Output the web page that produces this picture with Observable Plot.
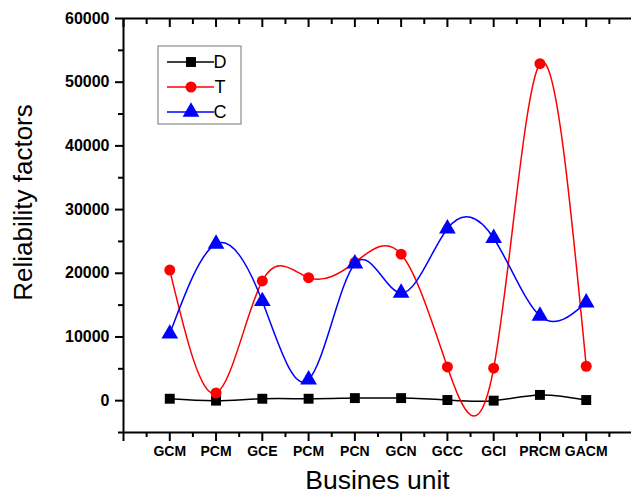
<!DOCTYPE html>
<html>
<head>
<meta charset="utf-8">
<script src="https://cdn.jsdelivr.net/npm/d3@7"></script>
<script src="https://cdn.jsdelivr.net/npm/@observablehq/plot@0.6"></script>
<style>
  html, body { margin: 0; padding: 0; background: #fff; }
  svg { font-family: Arial, "Liberation Sans", sans-serif; }
</style>
</head>
<body>
<div id="chart"></div>
<script>
const units = ["GCM", "PCM", "GCE", "PCM", "PCN", "GCN", "GCC", "GCI", "PRCM", "GACM"];
const seriesD = [300, 0, 300, 300, 400, 400, 100, 0, 900, 100];
const seriesT = [20500, 1200, 18800, 19300, 21700, 23000, 5300, 5100, 52900, 5400];
const seriesC = [10500, 24600, 15600, 3300, 21500, 16900, 27000, 25500, 13300, 15400];
const yTicks = [0, 10000, 20000, 30000, 40000, 50000, 60000];
const yMinor = [-5000, 5000, 15000, 25000, 35000, 45000, 55000];
const xTicks = d3.range(0, 12);
const xMinor = d3.range(0.5, 11, 1);

const series = [
  {name: "D", values: seriesD, color: "#000000", symbol: "square", r: 5.6},
  {name: "T", values: seriesT, color: "#ff0000", symbol: "circle", r: 5.5},
  {name: "C", values: seriesC, color: "#0000ff", symbol: "triangle", r: 6.2}
];
const rows = series.flatMap(s => s.values.map((v, i) => ({series: s.name, x: i + 1, unit: units[i], y: v})));

const lineMarks = series.flatMap(s => {
  const data = rows.filter(d => d.series === s.name);
  return [
    Plot.line(data, {x: "x", y: "y", curve: "natural", stroke: s.color, strokeWidth: 1.5}),
    Plot.dot(data, {x: "x", y: "y", symbol: () => s.symbol, r: s.r, fill: s.color, stroke: "none"})
  ];
});

const chart = Plot.plot({
  width: 631,
  height: 498,
  marginTop: 18,
  marginBottom: 66,
  marginLeft: 123,
  marginRight: 0,
  style: {fontFamily: "Arial, 'Liberation Sans', sans-serif", background: "#fff", overflow: "visible"},
  x: {domain: [0, 11], range: [123, 632]},
  y: {domain: [-5000, 60000]},
  symbol: {type: "identity"},
  marks: [
    // left axis
    Plot.axisY({ticks: yTicks, tickSize: 8, tickPadding: 6, tickFormat: d => String(d), fontSize: 16, fontWeight: "bold", label: null, strokeWidth: 2, color: "#000"}),
    Plot.axisY({ticks: yMinor, tickSize: 5, tickFormat: () => "", label: null, strokeWidth: 2}),
    // bottom axis
    Plot.axisX({ticks: d3.range(1, 11), tickSize: 9, tickPadding: 5, tickFormat: d => units[d - 1], fontSize: 14, fontWeight: "bold", label: null, strokeWidth: 2}),
    Plot.axisX({ticks: [0, 11], tickSize: 9, tickFormat: () => "", label: null, strokeWidth: 2}),
    Plot.axisX({ticks: xMinor, tickSize: 5, tickFormat: () => "", label: null, strokeWidth: 2}),
    // top axis, inward ticks
    Plot.axisX({anchor: "top", ticks: xTicks, tickSize: -8, tickFormat: () => "", label: null, strokeWidth: 2}),
    Plot.axisX({anchor: "top", ticks: xMinor, tickSize: -5, tickFormat: () => "", label: null, strokeWidth: 2}),
    // frame lines
    Plot.ruleY([-5000, 60000], {stroke: "#000", strokeWidth: 2}),
    Plot.ruleX([0, 11], {stroke: "#000", strokeWidth: 2}),
    ...lineMarks,
    // axis titles
    Plot.text(["Busines unit"], {frameAnchor: "bottom", dy: 56, fontSize: 26.5, fill: "#000", text: d => d}),
    Plot.text(["Reliability factors"], {frameAnchor: "left", textAnchor: "middle", dx: -100, dy: -23, rotate: -90, fontSize: 26, fill: "#000", text: d => d})
  ]
});

// legend
const svg = d3.select(chart);
const lg = svg.append("g").attr("class", "legend");
lg.append("rect").attr("x", 158).attr("y", 46).attr("width", 83).attr("height", 78)
  .attr("fill", "#fff").attr("stroke", "#777").attr("stroke-width", 1);
series.forEach((s, i) => {
  const cy = 62 + i * 25;
  lg.append("line").attr("x1", 167).attr("x2", 214).attr("y1", cy).attr("y2", cy)
    .attr("stroke", s.color).attr("stroke-width", 1.5);
  lg.append("path").attr("transform", `translate(191,${cy})`)
    .attr("d", d3.symbol(s.symbol === "square" ? d3.symbolSquare : s.symbol === "circle" ? d3.symbolCircle : d3.symbolTriangle, s.r * s.r * Math.PI)())
    .attr("fill", s.color);
  lg.append("text").attr("x", 220).attr("y", cy).attr("dy", "0.36em")
    .attr("font-size", 18).attr("fill", "#000").text(s.name);
});

document.getElementById("chart").appendChild(chart);
</script>
</body>
</html>
